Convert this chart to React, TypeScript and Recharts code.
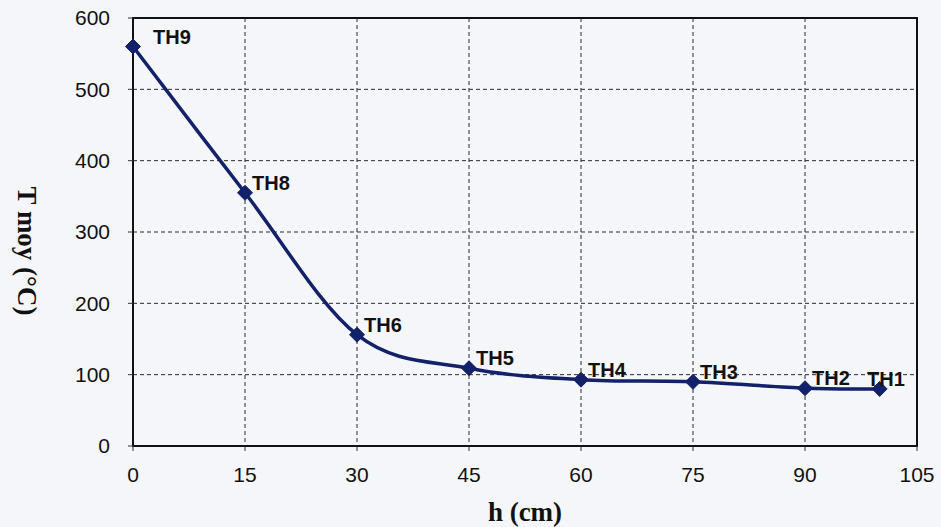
import React from 'react';
import { LineChart, Line, XAxis, YAxis, CartesianGrid, LabelList, Label, ReferenceArea } from 'recharts';

// h (cm) of each thermocouple and its mean temperature
const heights = [0, 15, 30, 45, 60, 75, 90, 100];
const tMoy = [560, 355, 156, 109, 93, 90, 81, 80];
const probes = ['TH9', 'TH8', 'TH6', 'TH5', 'TH4', 'TH3', 'TH2', 'TH1'];

const xTicks = [0, 15, 30, 45, 60, 75, 90, 105];
const yTicks = [0, 100, 200, 300, 400, 500, 600];

const data = heights.map((h, i) => ({ h, t: tMoy[i], name: probes[i] }));

const NAVY = '#13206a';
const PLOT_LEFT = 133;
const PLOT_RIGHT = 917;

// Catmull-Rom style smoothing, like a spreadsheet "smoothed line"
const smoothCurve = (ctx: any) => {
  let pts: [number, number][] = [];
  return {
    areaStart() {},
    areaEnd() {},
    lineStart() {
      pts = [];
    },
    point(x: number, y: number) {
      pts.push([+x, +y]);
    },
    lineEnd() {
      if (!pts.length) return;
      ctx.moveTo(pts[0][0], pts[0][1]);
      for (let i = 0; i < pts.length - 1; i++) {
        const p0 = pts[Math.max(i - 1, 0)];
        const p1 = pts[i];
        const p2 = pts[i + 1];
        const p3 = pts[Math.min(i + 2, pts.length - 1)];
        ctx.bezierCurveTo(
          p1[0] + (p2[0] - p0[0]) / 6,
          p1[1] + (p2[1] - p0[1]) / 6,
          p2[0] - (p3[0] - p1[0]) / 6,
          p2[1] - (p3[1] - p1[1]) / 6,
          p2[0],
          p2[1],
        );
      }
    },
  };
};

const Diamond = (props: any) => {
  const { cx, cy, index } = props;
  if (cx == null || cy == null) return null;
  const r = 7.5;
  return (
    <path
      key={`d-${index}`}
      d={`M${cx},${cy - r}L${cx + r},${cy}L${cx},${cy + r}L${cx - r},${cy}Z`}
      fill={NAVY}
      stroke={NAVY}
    />
  );
};

const ProbeLabel = (props: any) => {
  const x = props.x ?? props.viewBox?.x;
  const y = props.y ?? props.viewBox?.y;
  if (x == null || y == null) return null;
  const w = 48;
  let left = Math.max(x + 7, PLOT_LEFT + 20);
  if (left + w > PLOT_RIGHT - 2) left = PLOT_RIGHT - 2 - w;
  return (
    <text x={left} y={y - 10} dominantBaseline="central" fontSize={20} fontWeight="bold" fill="#111" fontFamily="Liberation Sans, Arial">
      {props.value}
    </text>
  );
};

export default function App() {
  return (
    <div
      style={{
        position: 'absolute',
        left: 0,
        top: 0,
        width: 941,
        height: 527,
        overflow: 'hidden',
        background: '#f5f6fa',
        fontFamily: 'Liberation Sans, Arial, sans-serif',
      }}
    >
      <LineChart width={941} height={527} data={data} margin={{ top: 18, right: 24, left: 0, bottom: 0 }}>
        <CartesianGrid stroke="#2a2a2a" strokeDasharray="4 3" strokeWidth={1} />
        <XAxis
          type="number"
          dataKey="h"
          domain={[0, 105]}
          ticks={xTicks}
          interval={0}
          height={81}
          axisLine={{ stroke: '#111', strokeWidth: 2 }}
          tickLine={{ stroke: '#333' }}
          tickSize={5}
          tickMargin={16}
          tick={{ fill: '#111', fontSize: 21 }}
        >
          <Label
            content={() => (
              <text x={525} y={512} textAnchor="middle" dominantBaseline="central" fontFamily="Liberation Serif, serif" fontWeight="bold" fontSize={27} fill="#111">
                h (cm)
              </text>
            )}
          />
        </XAxis>
        <YAxis
          type="number"
          domain={[0, 600]}
          ticks={yTicks}
          interval={0}
          width={133}
          axisLine={{ stroke: '#111', strokeWidth: 2 }}
          tickLine={{ stroke: '#333' }}
          tickSize={5}
          tickMargin={18}
          tick={{ fill: '#111', fontSize: 21 }}
        >
          <Label
            content={() => (
              <text x={27} y={251} transform="rotate(90 27 251)" textAnchor="middle" dominantBaseline="central" fontFamily="Liberation Serif, serif" fontWeight="bold" fontSize={27} fill="#111">
                T moy (°C)
              </text>
            )}
          />
        </YAxis>
        <ReferenceArea x1={0} x2={105} y1={0} y2={600} fill="none" stroke="#111" strokeWidth={2} />
        <Line
          type={smoothCurve as any}
          dataKey="t"
          stroke={NAVY}
          strokeWidth={3.5}
          dot={Diamond}
          activeDot={false}
          isAnimationActive={false}
        >
          <LabelList dataKey="name" content={ProbeLabel} />
        </Line>
      </LineChart>
    </div>
  );
}
